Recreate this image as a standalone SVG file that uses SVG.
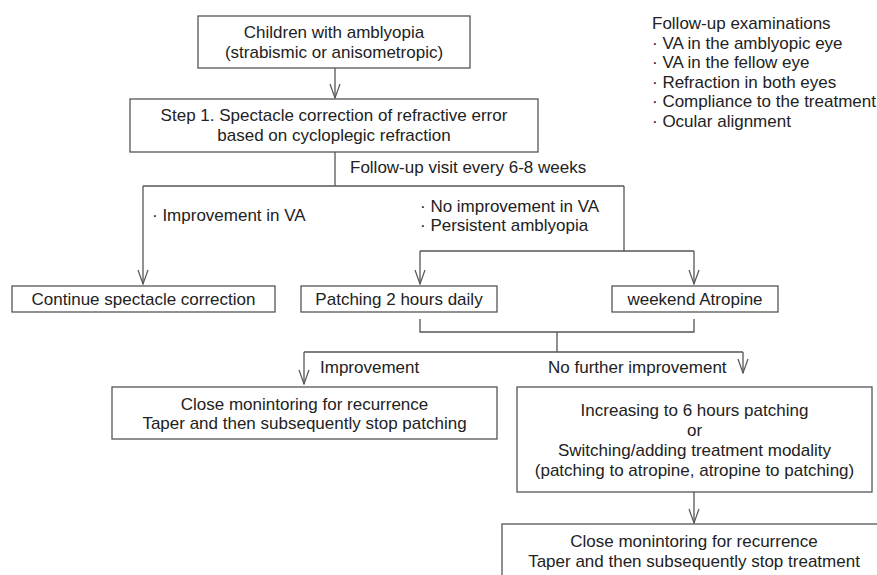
<svg xmlns="http://www.w3.org/2000/svg" width="877" height="575" viewBox="0 0 877 575">
<defs>
<style>
.box{fill:#fff;stroke:#555;stroke-width:1.3}
.ln{fill:none;stroke:#555;stroke-width:1.3}
.t{font-family:"Liberation Sans",Arial,Helvetica,sans-serif;font-size:17px;fill:#222}
.c{text-anchor:middle}
</style>
<marker id="v" viewBox="-15 -6 16 12" refX="0" refY="0" markerWidth="16" markerHeight="12" markerUnits="userSpaceOnUse" orient="auto">
<path d="M-14,-5 L0,0 L-14,5" fill="none" stroke="#555" stroke-width="1.2"/>
</marker>
</defs>
<rect width="877" height="575" fill="#fff"/>
<g id="connectors">
<line class="ln" x1="335" y1="68" x2="335" y2="98" marker-end="url(#v)"/>
<polyline class="ln" points="335,152 335,186"/>
<polyline class="ln" points="143,186 624,186"/>
<line class="ln" x1="143" y1="186" x2="143" y2="284" marker-end="url(#v)"/>
<polyline class="ln" points="624,186 624,251"/>
<polyline class="ln" points="420,251 694,251"/>
<line class="ln" x1="420" y1="251" x2="420" y2="284" marker-end="url(#v)"/>
<line class="ln" x1="694" y1="251" x2="694" y2="284" marker-end="url(#v)"/>
<polyline class="ln" points="420,319 420,332 694,332 694,319"/>
<polyline class="ln" points="557,332 557,352"/>
<polyline class="ln" points="304,352 743,352"/>
<line class="ln" x1="304" y1="352" x2="304" y2="384" marker-end="url(#v)"/>
<line class="ln" x1="743" y1="352" x2="743" y2="373" marker-end="url(#v)"/>
<line class="ln" x1="694" y1="492" x2="694" y2="523" marker-end="url(#v)"/>
</g>
<g id="start">
<rect class="box" x="198" y="16" width="272" height="52"/>
<text class="t c" x="334" y="38">Children with amblyopia</text>
<text class="t c" x="334" y="58">(strabismic or anisometropic)</text>
</g>
<g id="step1">
<rect class="box" x="130" y="99" width="408" height="53"/>
<text class="t c" x="334" y="121">Step 1. Spectacle correction of refractive error</text>
<text class="t c" x="334" y="141">based on cycloplegic refraction</text>
</g>
<g id="followup-note">
<text class="t" x="652" y="29">Follow-up examinations</text>
<text class="t" x="652" y="48.5">· VA in the amblyopic eye</text>
<text class="t" x="652" y="68">· VA in the fellow eye</text>
<text class="t" x="652" y="87.5">· Refraction in both eyes</text>
<text class="t" x="652" y="107">· Compliance to the treatment</text>
<text class="t" x="652" y="126.5">· Ocular alignment</text>
</g>
<g id="labels">
<text class="t" x="350" y="173">Follow-up visit every 6-8 weeks</text>
<text class="t" x="152" y="221">· Improvement in VA</text>
<text class="t" x="420" y="212">· No improvement in VA</text>
<text class="t" x="420" y="231">· Persistent amblyopia</text>
<text class="t" x="320" y="373">Improvement</text>
<text class="t" x="548" y="373">No further improvement</text>
</g>
<g id="continue">
<rect class="box" x="12" y="286" width="263" height="26"/>
<text class="t c" x="143.5" y="305">Continue spectacle correction</text>
</g>
<g id="patching">
<rect class="box" x="301" y="286" width="196" height="26"/>
<text class="t c" x="399" y="305">Patching 2 hours daily</text>
</g>
<g id="atropine">
<rect class="box" x="612" y="286" width="166" height="26"/>
<text class="t c" x="695" y="305">weekend Atropine</text>
</g>
<g id="monitor-patching">
<rect class="box" x="112" y="387" width="385" height="52"/>
<text class="t c" x="304.5" y="410">Close monintoring for recurrence</text>
<text class="t c" x="304.5" y="429">Taper and then subsequently stop patching</text>
</g>
<g id="increase">
<rect class="box" x="517" y="387" width="355" height="105"/>
<text class="t c" x="694.5" y="416">Increasing to 6 hours patching</text>
<text class="t c" x="694.5" y="436">or</text>
<text class="t c" x="694.5" y="456">Switching/adding treatment modality</text>
<text class="t c" x="694.5" y="476">(patching to atropine, atropine to patching)</text>
</g>
<g id="monitor-treatment">
<rect class="box" x="502" y="524" width="384" height="60"/>
<text class="t c" x="694" y="547">Close monintoring for recurrence</text>
<text class="t c" x="694" y="567">Taper and then subsequently stop treatment</text>
</g>
</svg>
